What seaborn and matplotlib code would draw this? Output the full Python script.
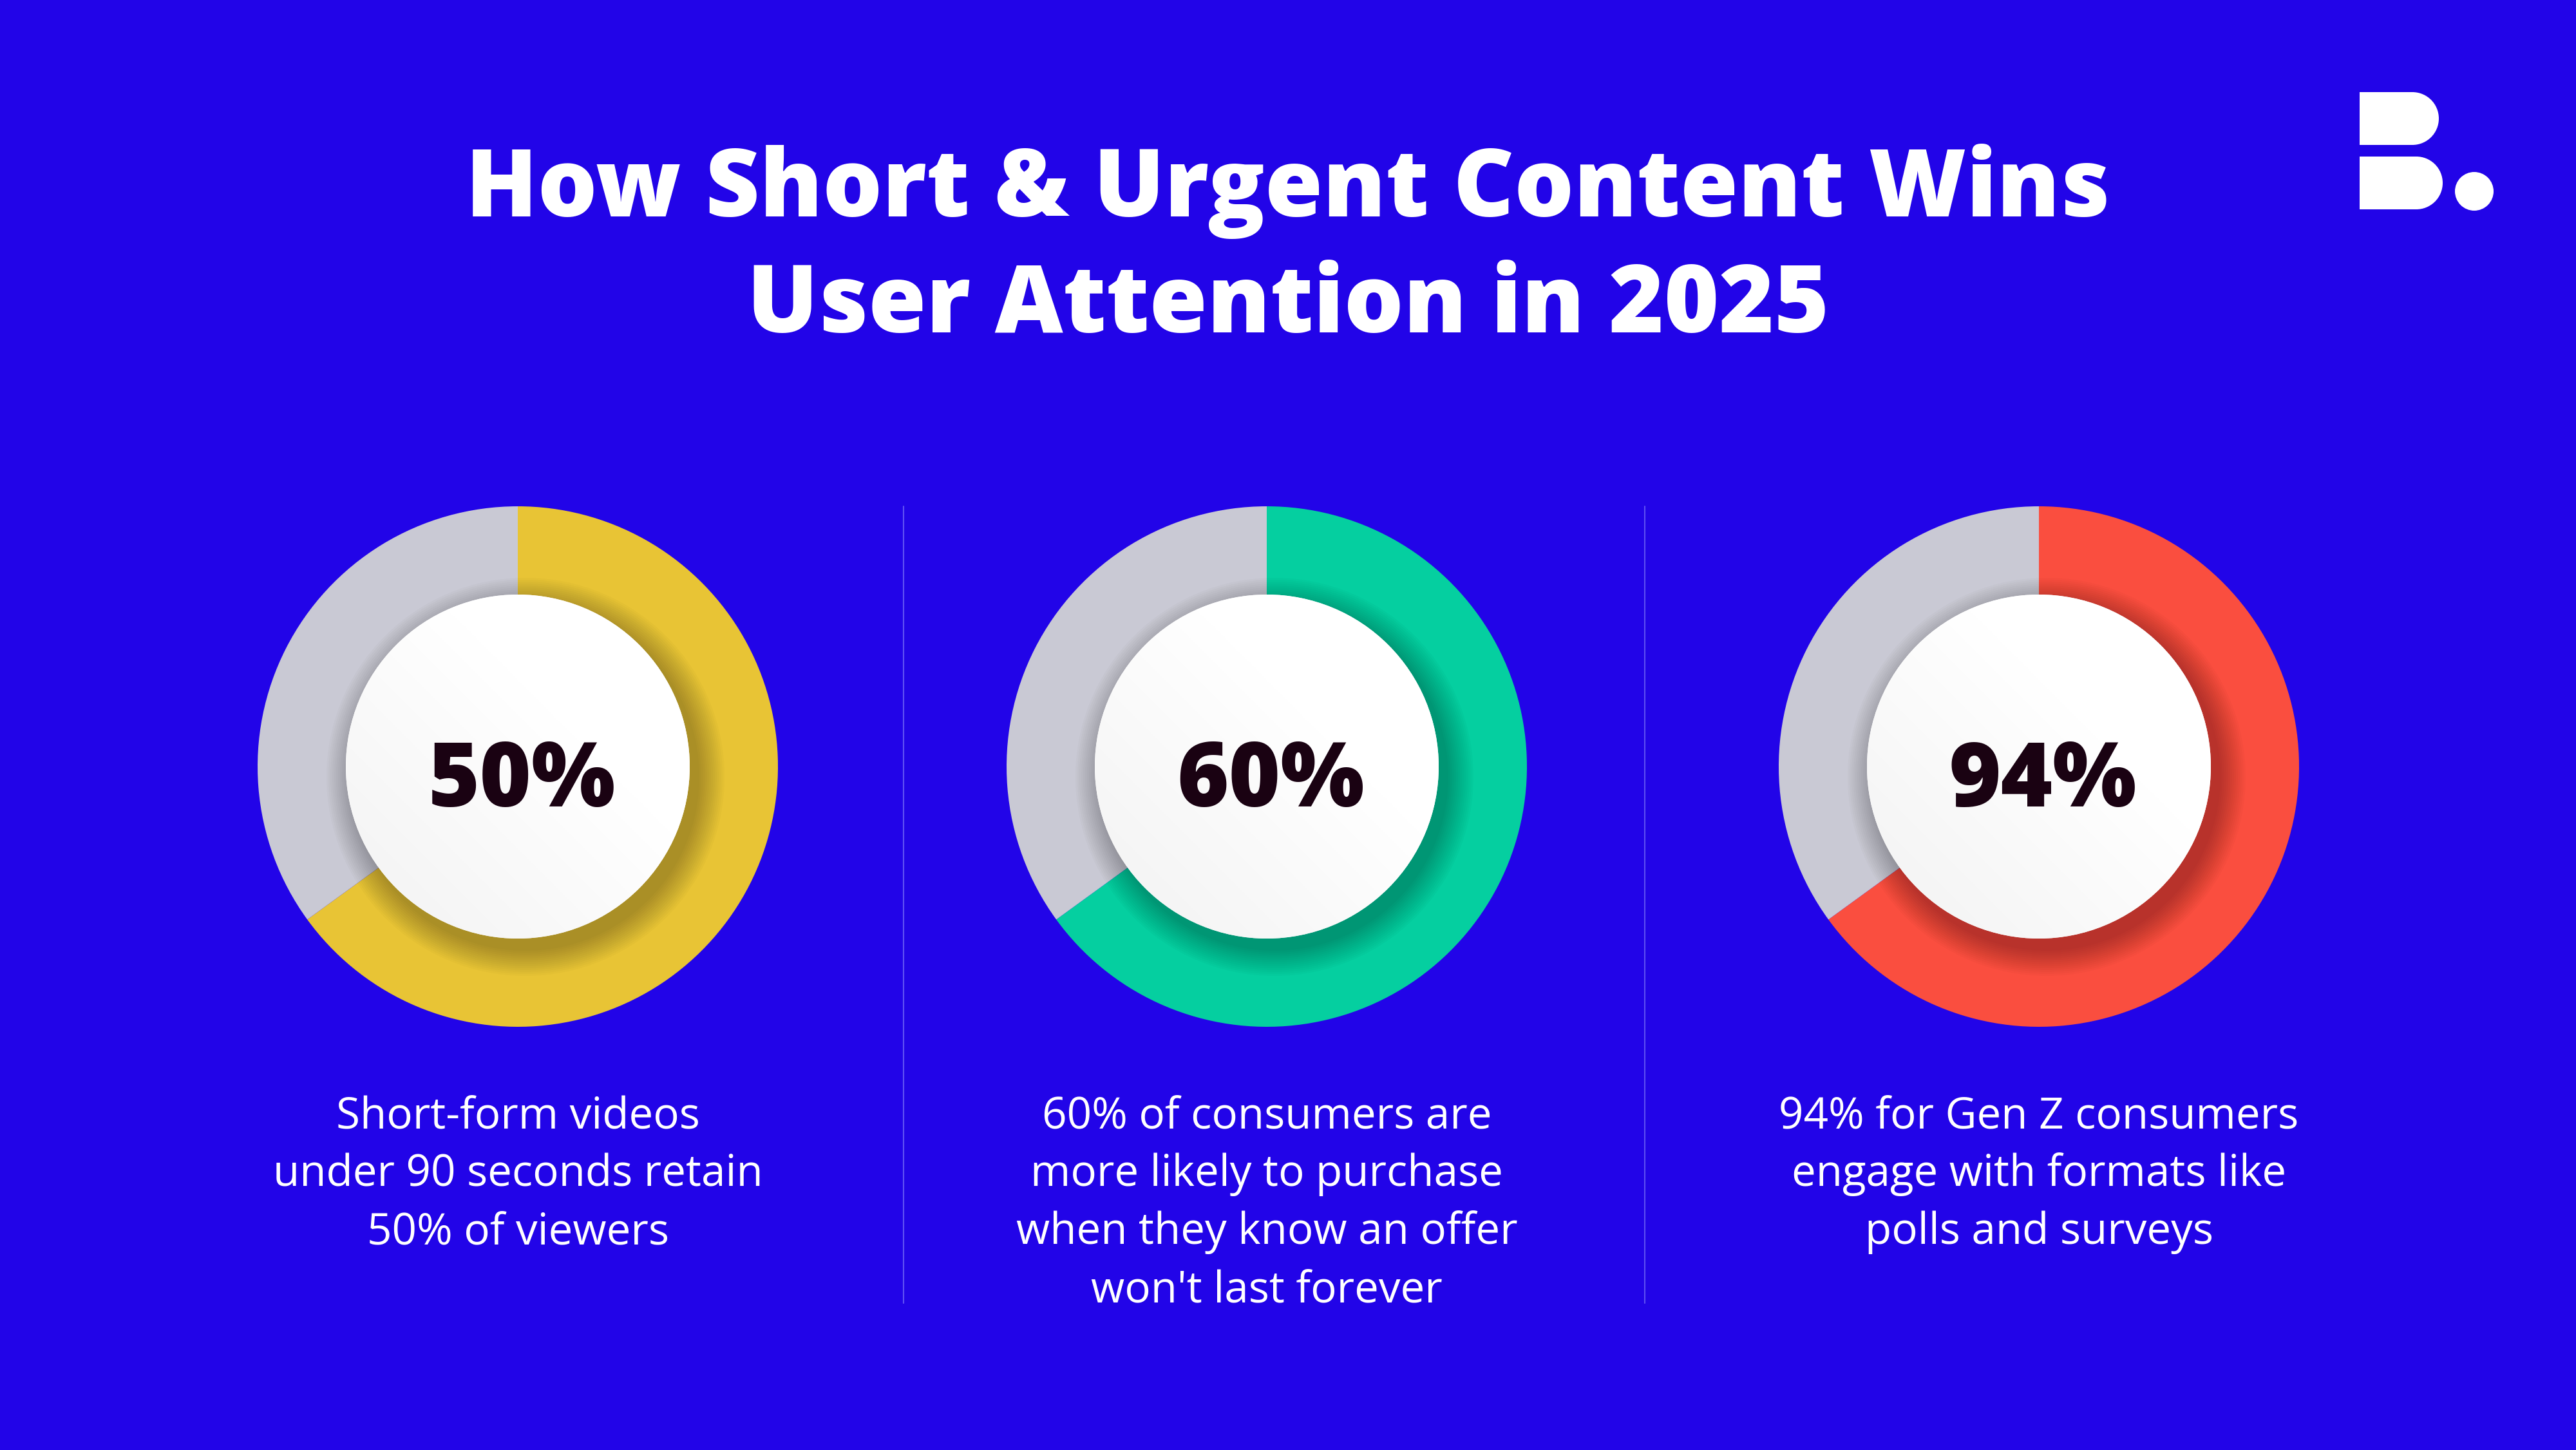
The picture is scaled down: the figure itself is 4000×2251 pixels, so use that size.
import numpy as np
import matplotlib
matplotlib.use('Agg')
import matplotlib.pyplot as plt
import seaborn as sns
from matplotlib.patches import Circle, Rectangle, Wedge

# values shown in the centre of each donut
pct_labels = ['50%', '60%', '94%']
# coloured share of each ring, as drawn in the picture (same for all three)
ring_share = [65, 65, 65]
ring_colors = ['#E8C435', '#05CFA0', '#FA4E3F']
rest_color = '#C9C9D4'

captions = [
    ['Short-form videos', 'under 90 seconds retain', '50% of viewers'],
    ['60% of consumers are', 'more likely to purchase', 'when they know an offer', "won't last forever"],
    ['94% for Gen Z consumers', 'engage with formats like', 'polls and surveys'],
]

title_lines = ['How Short & Urgent Content Wins', 'User Attention in 2025']

bg = '#2204E8'
W, H = 4000, 2251

sns.set_theme(style='white')
plt.rcParams['font.family'] = ['Open Sans', 'DejaVu Sans']

fig = plt.figure(figsize=(40, 22.51), dpi=100, facecolor=bg)
ax = fig.add_axes([0, 0, 1, 1])
ax.set_facecolor(bg)


def Y(y):
    # picture rows are counted from the top
    return H - y


centers_x = [804, 1967, 3166]
cy = Y(1190)
r_out, r_in = 404, 267

for i, cx in enumerate(centers_x):
    ax.pie([ring_share[i], 100 - ring_share[i]], colors=[ring_colors[i], rest_color],
           startangle=90, counterclock=False, center=(cx, cy), radius=r_out,
           wedgeprops=dict(width=r_out - 150, linewidth=0), frame=False)

    # soft drop shadow under the white disc
    for k in range(14):
        ax.add_patch(Circle((cx + 12, cy - 16), r_in + 42 - k * 3, color='black',
                            alpha=0.02, lw=0, zorder=3))

    disc = Circle((cx, cy), r_in, facecolor='white', lw=0, zorder=4)
    ax.add_patch(disc)
    gx, gy = np.meshgrid(np.linspace(0, 1, 200), np.linspace(0, 1, 200))
    grad = np.clip((gx + (1 - gy)) / 2, 0, 1)
    shade = 0.95 + 0.05 * np.clip(grad * 1.6, 0, 1)
    img = ax.imshow(np.dstack([shade, shade, shade]), extent=(cx - r_in, cx + r_in, cy - r_in, cy + r_in),
                    origin='upper', zorder=5, interpolation='bilinear')
    img.set_clip_path(disc)

    ax.text(cx + 6, Y(1252), pct_labels[i], ha='center', va='baseline', fontsize=99,
            fontweight='heavy', color='#1A0212', zorder=6)

    for j, line in enumerate(captions[i]):
        ax.text(cx, Y(1751 + j * 90), line, ha='center', va='baseline', fontsize=48.5,
                color='white', zorder=6)

# thin dividers between the columns
for x in [1403, 2554]:
    ax.plot([x, x], [Y(786), Y(2023)], color='#5E4FF2', lw=1.5, zorder=2)

# title
ax.text(2000, Y(336), title_lines[0], ha='center', va='baseline', fontsize=105,
        fontweight='heavy', color='white')
ax.text(2000, Y(516), title_lines[1], ha='center', va='baseline', fontsize=105,
        fontweight='heavy', color='white')

# "B." logo
ax.add_patch(Rectangle((3664, Y(225)), 3746 - 3664, 82, color='white', lw=0))
ax.add_patch(Wedge((3746, Y(184)), 41, -90, 90, color='white', lw=0))
ax.add_patch(Rectangle((3664, Y(325)), 3752 - 3664, 82, color='white', lw=0))
ax.add_patch(Wedge((3752, Y(284)), 41, -90, 90, color='white', lw=0))
ax.add_patch(Circle((3842, Y(297)), 30, color='white', lw=0))

ax.set_xlim(0, W)
ax.set_ylim(0, H)
ax.set_aspect('equal', adjustable='box')
ax.axis('off')

fig.savefig('out.png', dpi=100, facecolor=bg)
